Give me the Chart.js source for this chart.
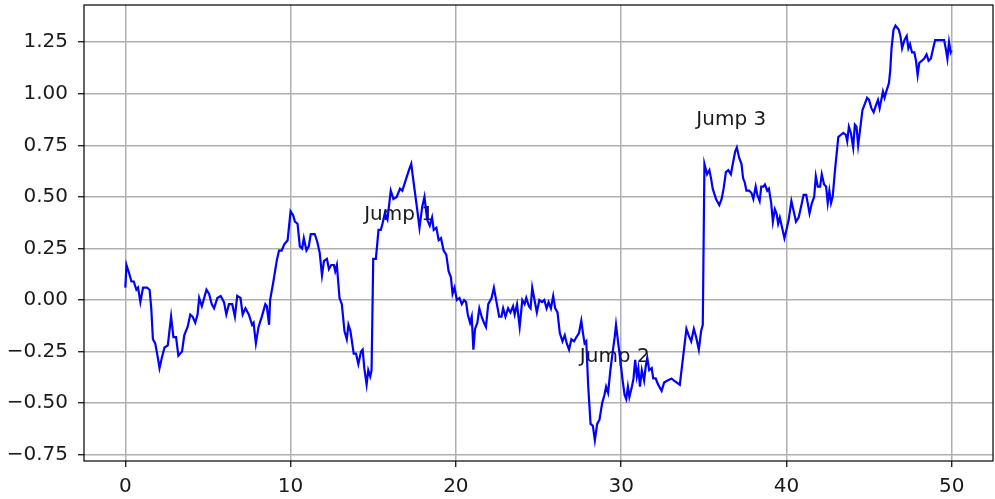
<!DOCTYPE html>
<html>
<head>
<meta charset="utf-8">
<script src="https://cdn.jsdelivr.net/npm/chart.js@4/dist/chart.umd.min.js"></script>
<style>
  html, body { margin: 0; padding: 0; background: #fff; }
  canvas { display: block; }
</style>
</head>
<body>
<canvas id="walkChart" width="995" height="499"></canvas>
<script>
// Data
const xValues = [
    0, 0.07, 0.23, 0.37, 0.51, 0.67, 0.77, 0.91, 1.07, 1.31, 1.47, 1.57, 1.67, 1.81, 1.97, 2.07, 2.21, 2.37, 2.57, 2.77,
    2.91, 3.07, 3.21, 3.43, 3.57, 3.77, 3.93, 4.07, 4.23, 4.37, 4.47, 4.63, 4.77, 4.91, 5.07, 5.23, 5.37, 5.57, 5.77, 5.97,
    6.11, 6.27, 6.47, 6.63, 6.77, 6.97, 7.1, 7.27, 7.47, 7.67, 7.76, 7.9, 8.06, 8.26, 8.47, 8.56, 8.7, 8.76, 8.96, 9.16,
    9.3, 9.46, 9.62, 9.82, 10.0, 10.16, 10.26, 10.42, 10.56, 10.7, 10.8, 10.96, 11.1, 11.22, 11.46, 11.62, 11.76, 11.9, 12.02, 12.2,
    12.32, 12.46, 12.62, 12.7, 12.8, 12.96, 13.1, 13.26, 13.4, 13.5, 13.62, 13.82, 13.96, 14.1, 14.26, 14.36, 14.46, 14.6, 14.7, 14.82,
    14.9, 15.0, 15.16, 15.32, 15.46, 15.56, 15.7, 15.86, 15.96, 16.06, 16.22, 16.42, 16.62, 16.76, 16.96, 17.16, 17.3, 17.46, 17.66, 17.8,
    17.96, 18.1, 18.26, 18.42, 18.56, 18.66, 18.82, 18.96, 19.1, 19.26, 19.42, 19.56, 19.7, 19.8, 19.92, 20.06, 20.22, 20.36, 20.5, 20.62,
    20.72, 20.86, 20.96, 21.06, 21.16, 21.3, 21.42, 21.56, 21.7, 21.82, 21.96, 22.16, 22.3, 22.46, 22.62, 22.76, 22.86, 23.0, 23.16, 23.3,
    23.46, 23.56, 23.7, 23.86, 24.02, 24.16, 24.26, 24.42, 24.52, 24.62, 24.76, 24.9, 25.05, 25.21, 25.35, 25.49, 25.61, 25.75, 25.89, 26.01,
    26.15, 26.29, 26.45, 26.59, 26.71, 26.85, 26.99, 27.15, 27.29, 27.45, 27.59, 27.69, 27.79, 27.89, 28.01, 28.15, 28.29, 28.41, 28.55, 28.69,
    28.85, 28.99, 29.09, 29.21, 29.35, 29.49, 29.61, 29.69, 29.81, 29.95, 30.09, 30.21, 30.31, 30.41, 30.5, 30.65, 30.75, 30.85, 30.95, 31.04,
    31.14, 31.25, 31.39, 31.49, 31.58, 31.7, 31.85, 31.94, 32.09, 32.24, 32.45, 32.6, 32.81, 33.05, 33.2, 33.55, 33.95, 34.08, 34.24, 34.4,
    34.54, 34.7, 34.84, 34.94, 35.04, 35.2, 35.34, 35.44, 35.54, 35.74, 35.94, 36.08, 36.2, 36.34, 36.48, 36.64, 36.78, 36.9, 37.0, 37.14,
    37.28, 37.38, 37.48, 37.58, 37.74, 37.88, 38.0, 38.14, 38.24, 38.38, 38.48, 38.6, 38.7, 38.84, 38.94, 39.08, 39.18, 39.3, 39.4, 39.5,
    39.6, 39.74, 39.88, 40.0, 40.14, 40.3, 40.44, 40.58, 40.74, 40.88, 41.04, 41.2, 41.4, 41.54, 41.68, 41.78, 41.9, 42.04, 42.14, 42.28,
    42.4, 42.5, 42.6, 42.7, 42.8, 42.94, 43.04, 43.14, 43.28, 43.44, 43.6, 43.68, 43.78, 43.9, 44.04, 44.14, 44.24, 44.34, 44.48, 44.6,
    44.74, 44.88, 45.0, 45.14, 45.28, 45.4, 45.54, 45.64, 45.74, 45.84, 45.94, 46.04, 46.2, 46.28, 46.36, 46.48, 46.6, 46.8, 46.9, 47.0,
    47.14, 47.28, 47.38, 47.48, 47.6, 47.74, 47.84, 47.94, 48.04, 48.2, 48.34, 48.48, 48.6, 48.74, 48.88, 49.0, 49.14, 49.34, 49.54, 49.64,
    49.74, 49.84, 49.94, 50.0
];

const yValues = [
    0.06, 0.17, 0.13, 0.09, 0.09, 0.05, 0.06, -0.01, 0.06, 0.06, 0.05, -0.04, -0.19, -0.21, -0.28, -0.33, -0.28, -0.23, -0.22, -0.08,
    -0.18, -0.18, -0.27, -0.25, -0.17, -0.13, -0.07, -0.08, -0.11, -0.07, 0.01, -0.03, 0.01, 0.05, 0.03, -0.02, -0.04, 0.01, 0.02, -0.01,
    -0.07, -0.02, -0.02, -0.08, 0.02, 0.01, -0.07, -0.04, -0.07, -0.12, -0.11, -0.21, -0.13, -0.08, -0.02, -0.03, -0.12, 0.0, 0.09, 0.19,
    0.24, 0.24, 0.27, 0.29, 0.43, 0.41, 0.38, 0.37, 0.26, 0.25, 0.30, 0.24, 0.26, 0.32, 0.32, 0.28, 0.23, 0.12, 0.19, 0.20,
    0.15, 0.17, 0.17, 0.14, 0.17, 0.01, -0.02, -0.15, -0.19, -0.12, -0.15, -0.26, -0.26, -0.31, -0.25, -0.24, -0.33, -0.41, -0.34, -0.37,
    -0.34, 0.20, 0.20, 0.34, 0.34, 0.37, 0.42, 0.39, 0.46, 0.53, 0.49, 0.50, 0.54, 0.53, 0.58, 0.63, 0.66, 0.56, 0.44, 0.35,
    0.45, 0.50, 0.39, 0.36, 0.40, 0.34, 0.35, 0.29, 0.30, 0.24, 0.22, 0.14, 0.11, 0.03, 0.06, 0.0, 0.01, -0.02, 0.0, -0.01,
    -0.07, -0.11, -0.08, -0.24, -0.14, -0.11, -0.04, -0.08, -0.11, -0.13, -0.02, 0.01, 0.06, -0.01, -0.08, -0.08, -0.04, -0.08, -0.04, -0.06,
    -0.03, -0.07, -0.02, -0.13, 0.0, -0.02, 0.01, -0.03, -0.04, 0.06, 0.0, -0.06, 0.0, -0.01, 0.0, -0.04, -0.01, -0.04, 0.02, -0.04,
    -0.06, -0.16, -0.20, -0.17, -0.21, -0.24, -0.19, -0.20, -0.18, -0.16, -0.10, -0.16, -0.21, -0.20, -0.42, -0.60, -0.61, -0.68, -0.60, -0.58,
    -0.50, -0.46, -0.42, -0.45, -0.34, -0.25, -0.18, -0.12, -0.20, -0.29, -0.39, -0.46, -0.48, -0.42, -0.47, -0.42, -0.38, -0.29, -0.37, -0.33,
    -0.42, -0.34, -0.39, -0.32, -0.28, -0.34, -0.33, -0.38, -0.38, -0.41, -0.44, -0.40, -0.39, -0.38, -0.39, -0.41, -0.14, -0.17, -0.20, -0.14,
    -0.18, -0.24, -0.15, -0.12, 0.66, 0.61, 0.63, 0.59, 0.54, 0.49, 0.46, 0.49, 0.54, 0.62, 0.63, 0.61, 0.67, 0.72, 0.74, 0.69,
    0.66, 0.59, 0.57, 0.53, 0.53, 0.52, 0.49, 0.55, 0.51, 0.48, 0.55, 0.55, 0.56, 0.53, 0.54, 0.47, 0.38, 0.44, 0.42, 0.37,
    0.40, 0.35, 0.30, 0.34, 0.39, 0.48, 0.43, 0.38, 0.40, 0.45, 0.51, 0.51, 0.42, 0.47, 0.50, 0.60, 0.55, 0.55, 0.61, 0.56,
    0.55, 0.47, 0.53, 0.47, 0.50, 0.63, 0.71, 0.79, 0.80, 0.81, 0.80, 0.77, 0.84, 0.81, 0.74, 0.85, 0.84, 0.75, 0.84, 0.92,
    0.95, 0.98, 0.97, 0.93, 0.91, 0.94, 0.97, 0.93, 0.97, 1.01, 0.98, 1.01, 1.05, 1.11, 1.22, 1.31, 1.33, 1.31, 1.28, 1.22,
    1.26, 1.28, 1.22, 1.24, 1.20, 1.20, 1.16, 1.09, 1.15, 1.16, 1.17, 1.19, 1.16, 1.17, 1.22, 1.26, 1.26, 1.26, 1.26, 1.22,
    1.17, 1.25, 1.20, 1.21
];

const xTicks = [0, 10, 20, 30, 40, 50];
const yTicks = [-0.75, -0.5, -0.25, 0, 0.25, 0.5, 0.75, 1.0, 1.25];

// annotation text, placed at its left baseline in data units
const jumpLabels = ["Jump 1", "Jump 2", "Jump 3"];
const jumpX = [14.45, 27.5, 34.55];
const jumpY = [0.39, -0.30, 0.85];

Chart.defaults.font.family = "'DejaVu Sans', sans-serif";
Chart.defaults.font.size = 20;
Chart.defaults.color = "#1a1a1a";

const fmt = (v) => v.toFixed(2).replace("-", "\u2212");

// text drawn under the line, frame drawn over it
const annotations = {
    id: "annotations",
    beforeDatasetsDraw(chart) {
        const ctx = chart.ctx;
        const xs = chart.scales.x;
        const ys = chart.scales.y;
        ctx.save();
        ctx.font = "20px 'DejaVu Sans', sans-serif";
        ctx.fillStyle = "#1a1a1a";
        ctx.textAlign = "left";
        ctx.textBaseline = "alphabetic";
        jumpLabels.forEach((label, i) => {
            ctx.fillText(label, xs.getPixelForValue(jumpX[i]), ys.getPixelForValue(jumpY[i]));
        });
        ctx.restore();
    },
    afterDraw(chart) {
        const a = chart.chartArea;
        const ctx = chart.ctx;
        ctx.save();
        ctx.strokeStyle = "#000";
        ctx.lineWidth = 1.2;
        ctx.strokeRect(a.left, a.top, a.right - a.left, a.bottom - a.top);
        ctx.restore();
    },
};

const ctx = document.getElementById("walkChart").getContext("2d");
new Chart(ctx, {
    type: "line",
    data: {
        datasets: [
            {
                data: xValues.map((x, i) => ({ x: x, y: yValues[i] })),
                borderColor: "#0000ff",
                borderWidth: 2.2,
                pointRadius: 0,
                tension: 0,
                fill: false,
            },
        ],
    },
    options: {
        responsive: false,
        animation: false,
        devicePixelRatio: 1,
        layout: {
            padding: { top: 5, right: 2, left: 0, bottom: 0 },
        },
        plugins: {
            legend: { display: false },
            tooltip: { enabled: false },
        },
        scales: {
            x: {
                type: "linear",
                min: -2.5,
                max: 52.5,
                afterBuildTicks: (scale) => {
                    scale.ticks = xTicks.map((v) => ({ value: v }));
                },
                afterFit: (scale) => {
                    scale.height = 38;
                    scale.paddingLeft = 0;
                    scale.paddingRight = 0;
                },
                ticks: {
                    padding: 8,
                    maxRotation: 0,
                    autoSkip: false,
                    callback: (v) => String(v),
                },
                grid: {
                    color: "#b0b0b0",
                    lineWidth: 1.5,
                    tickColor: "#000",
                    tickLength: 6,
                    tickWidth: 1.2,
                },
                border: { display: false },
            },
            y: {
                type: "linear",
                min: -0.78,
                max: 1.43,
                afterBuildTicks: (scale) => {
                    scale.ticks = yTicks.map((v) => ({ value: v }));
                },
                afterFit: (scale) => {
                    scale.width = 84;
                    scale.paddingTop = 0;
                    scale.paddingBottom = 0;
                },
                ticks: {
                    padding: 10,
                    autoSkip: false,
                    callback: (v) => fmt(v),
                },
                grid: {
                    color: "#b0b0b0",
                    lineWidth: 1.5,
                    tickColor: "#000",
                    tickLength: 6,
                    tickWidth: 1.2,
                },
                border: { display: false },
            },
        },
    },
    plugins: [annotations],
});
</script>
</body>
</html>
